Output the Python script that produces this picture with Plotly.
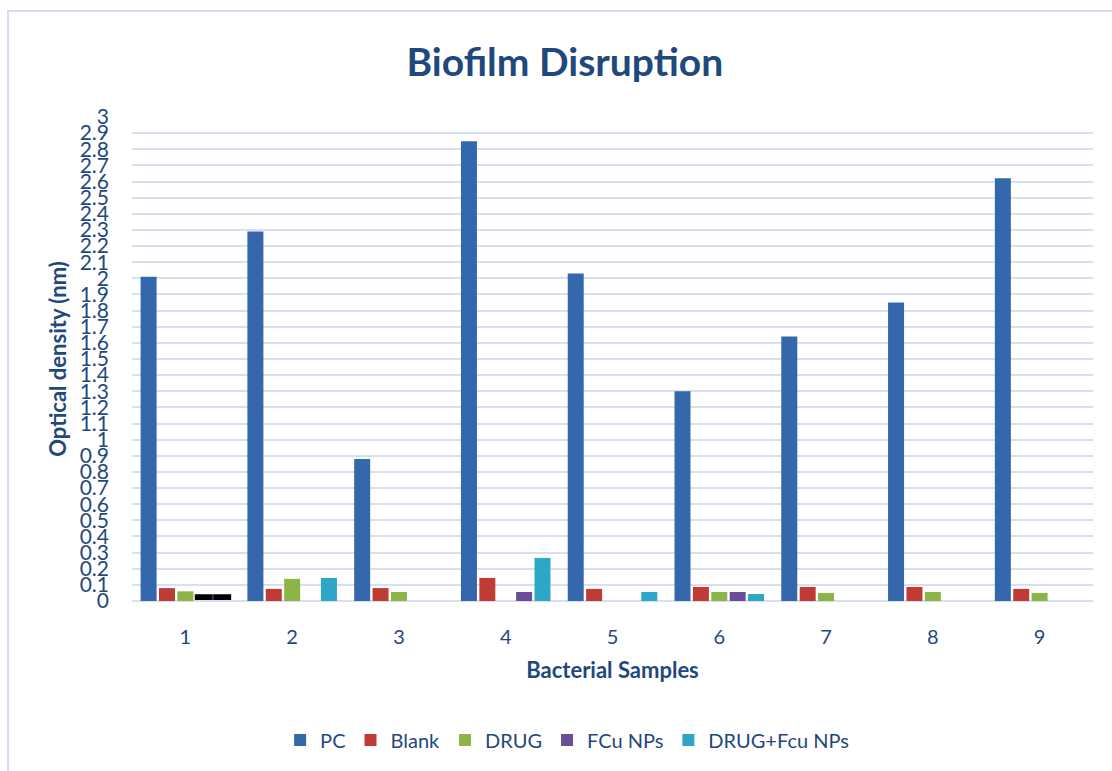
import plotly.graph_objects as go

# Bacterial samples on the x axis
samples = ["1", "2", "3", "4", "5", "6", "7", "8", "9"]

# Optical density readings per treatment
pc = [2.01, 2.29, 0.88, 2.85, 2.03, 1.30, 1.64, 1.85, 2.62]
blank = [0.08, 0.075, 0.08, 0.143, 0.075, 0.087, 0.087, 0.087, 0.075]
drug = [0.06, 0.137, 0.056, 0.0, 0.0, 0.056, 0.05, 0.056, 0.05]
fcu_nps = [0.0, 0.0, 0.0, 0.056, 0.0, 0.056, 0.0, 0.0, 0.0]
drug_fcu_nps = [0.0, 0.143, 0.0, 0.267, 0.056, 0.043, 0.0, 0.0, 0.0]

# Black band drawn across the FCu / DRUG+Fcu slots of sample 1
band_samples = ["1"]
band_top = [0.035]
band_bottom = [0.012]

# Y-axis ticks
y_ticks = [round(i * 0.1, 1) for i in range(31)]
y_tick_text = [("%g" % v) for v in y_ticks]

series = [
    ("PC", pc, "#3467AC"),
    ("Blank", blank, "#C13B35"),
    ("DRUG", drug, "#8DB545"),
    ("FCu NPs", fcu_nps, "#6C4E98"),
    ("DRUG+Fcu NPs", drug_fcu_nps, "#2EA6C6"),
]

TEXT = "#1F497D"
FONT = "Lato"

fig = go.Figure()
for name, vals, color in series:
    fig.add_trace(go.Bar(
        x=samples, y=vals, name=name, offsetgroup=name,
        marker=dict(color=color, line=dict(width=0)),
    ))

band_height = [t - b for t, b in zip(band_top, band_bottom)]
for grp in ("FCu NPs", "DRUG+Fcu NPs"):
    fig.add_trace(go.Bar(
        x=band_samples, y=band_height, base=band_bottom, offsetgroup=grp,
        showlegend=False, hoverinfo="skip",
        marker=dict(color="#000000", line=dict(color="#000000", width=2)),
    ))

# outer chart frame
fig.add_shape(type="rect", xref="paper", yref="paper",
              x0=-0.129, x1=1.05, y0=-0.4, y1=1.219,
              line=dict(color="#D5DFF0", width=2), fillcolor="rgba(0,0,0,0)",
              layer="below")

fig.update_layout(
    width=1112, height=771,
    margin=dict(l=132, r=19, t=117, b=170),
    paper_bgcolor="white", plot_bgcolor="white",
    barmode="group", bargap=0.139, bargroupgap=0.13,
    font=dict(family=FONT, color=TEXT, size=20),
    title=dict(text="<b>Biofilm Disruption</b>", x=0.508, xref="container",
               y=1 - 62 / 771, yref="container", yanchor="middle", xanchor="center",
               font=dict(size=39, color=TEXT, family=FONT)),
    legend=dict(orientation="h", x=0.51, xref="container", xanchor="center",
                y=1 - 740 / 771, yref="container", yanchor="middle",
                font=dict(size=20, color=TEXT), itemwidth=30,
                traceorder="normal"),
    showlegend=True,
)

fig.update_xaxes(
    type="category", showgrid=False, showline=False, zeroline=False,
    ticks="", ticklabelstandoff=22,
    tickfont=dict(size=20, color=TEXT),
    title=dict(text="<b>Bacterial Samples</b>", font=dict(size=22, color=TEXT), standoff=15),
)
fig.update_yaxes(
    range=[0, 3], tickmode="array", tickvals=y_ticks, ticktext=y_tick_text,
    showgrid=True, gridcolor="#D6E0F1", gridwidth=2,
    zeroline=True, zerolinecolor="#D6E0F1", zerolinewidth=2,
    showline=False, ticks="", ticklabelstandoff=22,
    tickfont=dict(size=21, color=TEXT),
    title=dict(text="<b>Optical density (nm)</b>", font=dict(size=22, color=TEXT), standoff=6),
)

fig.write_html("out.html")
